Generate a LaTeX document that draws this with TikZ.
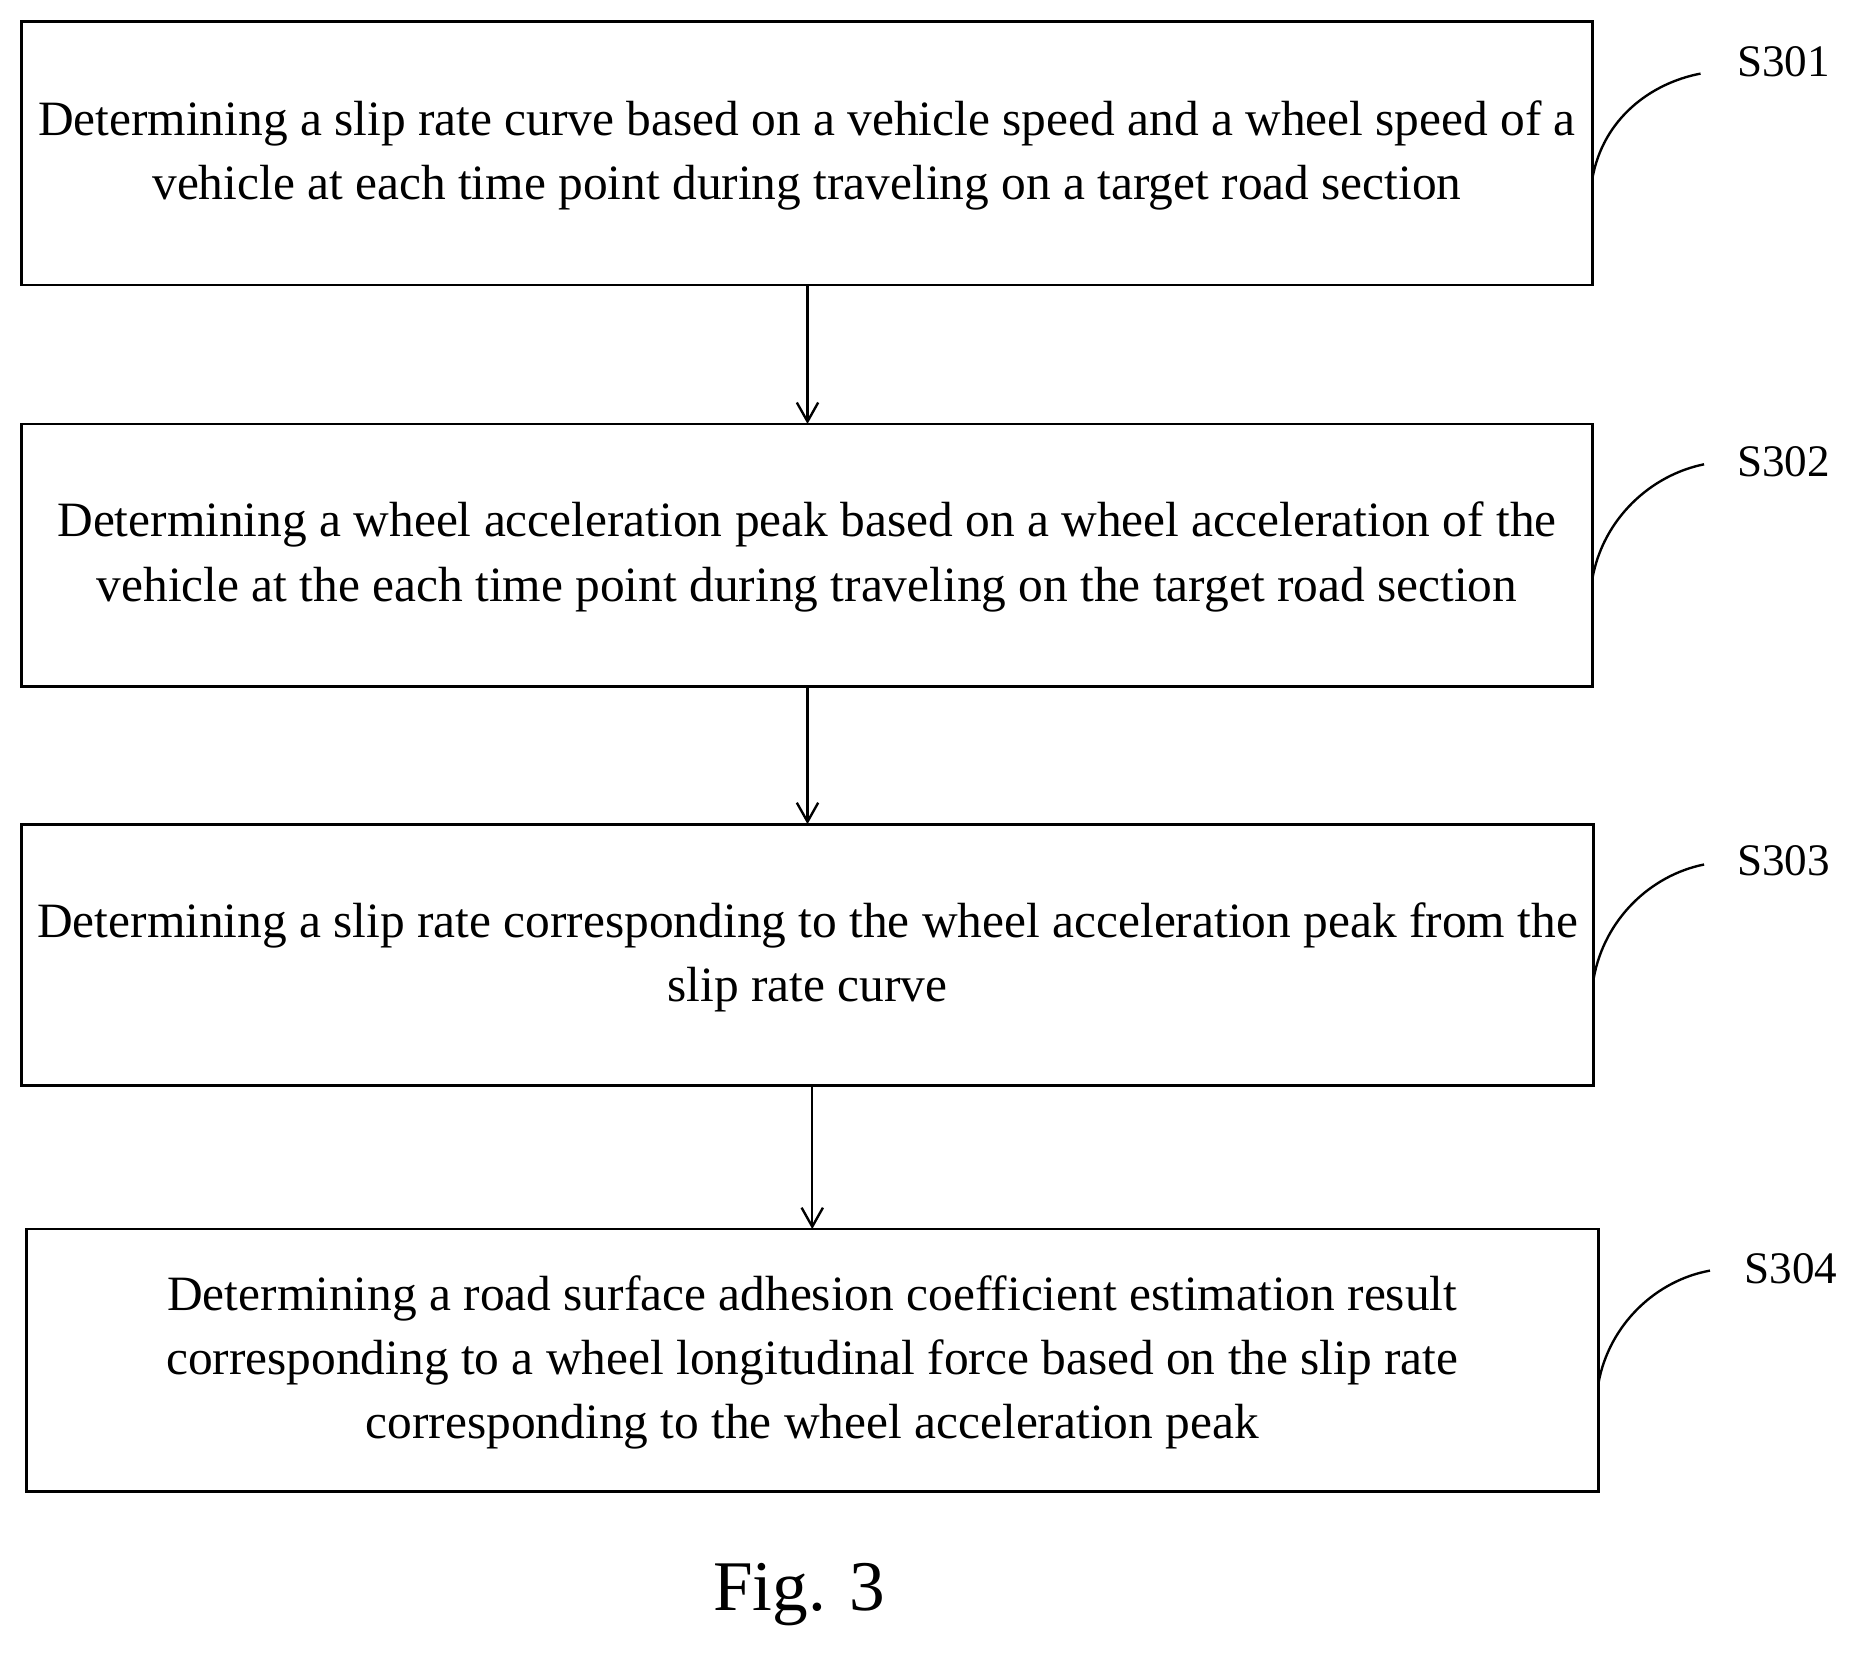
\documentclass[tikz,border=0pt]{standalone}
\usetikzlibrary{arrows.meta}
\usepackage{fontspec}
\setmainfont{Liberation Serif}
\begin{document}
\begin{tikzpicture}[x=0.5pt,y=-0.5pt,
 box/.style={draw,line width=1.2pt,inner sep=0,align=center,font=\fontsize{20.8}{27}\selectfont},
 lab/.style={font=\fontsize{19}{22}\selectfont},
 arr/.style={-{Straight Barb[length=8pt,width=9pt]},line width=1pt},
 cv/.style={line width=1pt}]
\useasboundingbox (0,0) rectangle (1568,1395);
\draw[box] (18,18) rectangle (1341,240);
\node[box,draw=none] (b1) at (679.5,131) {Determining a slip rate curve based on a vehicle speed and a wheel speed of a\\vehicle at each time point during traveling on a target road section};
\draw[box] (18,357) rectangle (1341,578);
\node[box,draw=none] (b2) at (679.5,469) {Determining a wheel acceleration peak based on a wheel acceleration of the\\vehicle at the each time point during traveling on the target road section};
\draw[box] (18,694) rectangle (1342,914);
\node[box,draw=none] (b3) at (680,806) {Determining a slip rate corresponding to the wheel acceleration peak from the\\slip rate curve};
\draw[box] (22,1035) rectangle (1346,1256);
\node[box,draw=none] (b4) at (684,1147) {Determining a road surface adhesion coefficient estimation result\\corresponding to a wheel longitudinal force based on the slip rate\\corresponding to the wheel acceleration peak};
\coordinate (a1) at (680,240); \coordinate (a2) at (680,357);
\coordinate (c1) at (680,578); \coordinate (c2) at (680,694);
\coordinate (d1) at (684,914); \coordinate (d2) at (684,1035);
\draw[arr] (a1) -- (a2);
\draw[arr] (c1) -- (c2);
\draw[arr] (d1) -- (d2);
\node[lab] (l1) at (1502,52) {S301};
\node[lab] (l2) at (1502,389) {S302};
\node[lab] (l3) at (1502,725) {S303};
\node[lab] (l4) at (1508,1068) {S304};
\draw[cv] (1341,150) .. controls (1350,100) and (1390,70) .. (1432,62);
\draw[cv] (1341,487) .. controls (1350,437) and (1390,400) .. (1435,391);
\draw[cv] (1342,824) .. controls (1351,774) and (1390,737) .. (1435,728);
\draw[cv] (1346,1165) .. controls (1355,1115) and (1395,1078) .. (1440,1070);
\node[font=\fontsize{30}{34}\selectfont] (fig) at (673,1343) {Fig. 3};
\end{tikzpicture}
\end{document}
